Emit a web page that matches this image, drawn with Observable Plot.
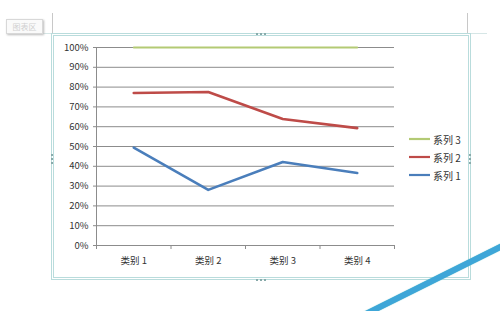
<!DOCTYPE html>
<html>
<head>
<meta charset="utf-8">
<script src="https://cdn.jsdelivr.net/npm/d3@7"></script>
<script src="https://cdn.jsdelivr.net/npm/@observablehq/plot@0.6"></script>
<style>
  html, body { margin: 0; padding: 0; background: #fff; }
  #wrap { position: relative; width: 500px; height: 311px; overflow: hidden; background: #fff;
          font-family: "Noto Sans CJK SC", "Liberation Sans", sans-serif; }
  #chart { position: absolute; left: 0; top: 0; }
  .deco { position: absolute; }
  .legend-item { position: absolute; left: 409px; height: 14px; display: flex; align-items: center;
                 font-size: 10px; color: #333; }
  .legend-item svg { margin-right: 3px; }
</style>
</head>
<body>
<div id="wrap">
  <!-- Excel selection frame decorations -->
  <div class="deco" style="left:52px;top:13px;width:1px;height:21px;background:#c8c8c8"></div>
  <div class="deco" style="left:467px;top:13px;width:1px;height:21px;background:#c8c8c8"></div>
  <div class="deco" style="left:42px;top:33px;width:445px;height:1px;background:#d6e6e6"></div>
  <div class="deco" style="left:6px;top:19px;width:35px;height:13px;border:1px solid #d8d8d8;background:#fafafa;box-shadow:1px 1px 2px #bbb;font-size:8px;color:#d0d0d0;line-height:13px;text-align:center">图表区</div>
  <div class="deco" style="left:51px;top:33px;width:414px;height:241px;border:3px double #b9dcdc"></div>
  <div class="deco" style="left:256px;top:33px;width:10px;height:2px;border-top:2px dotted #8aa"></div>
  <div class="deco" style="left:256px;top:279px;width:10px;height:2px;border-top:2px dotted #8aa"></div>
  <div class="deco" style="left:51px;top:154px;width:2px;height:10px;border-left:2px dotted #8aa"></div>
  <div class="deco" style="left:469px;top:154px;width:2px;height:10px;border-left:2px dotted #8aa"></div>
  <div id="chart"></div>
  <div id="legend"></div>
  <div class="deco" style="left:356px;top:276px;width:160px;height:6px;background:#3ea6d8;transform:rotate(-26.5deg);transform-origin:center;box-shadow:0 0 1px #7cc"></div>
</div>
<script>
const categories = ["类别 1", "类别 2", "类别 3", "类别 4"];
const seriesNames = ["系列 1", "系列 2", "系列 3"];
// shares (percent of category total)
const series1 = [49.4, 28.1, 42.2, 36.6];
const series2 = [27.6, 49.4, 21.7, 22.7];
const series3 = [23.0, 22.5, 36.1, 40.7];
const yTicks = [0, 0.1, 0.2, 0.3, 0.4, 0.5, 0.6, 0.7, 0.8, 0.9, 1];
const seriesColors = ["#4a7ebb", "#be4b48", "#b3ca74"];
const seriesWidths = [2.6, 2.6, 1.8];

const seriesValues = [series1, series2, series3];
const rows = [];
categories.forEach((c, i) => {
  seriesNames.forEach((s, j) => {
    rows.push({pos: i + 1, category: c, series: s, value: seriesValues[j][i]});
  });
});

const chart = Plot.plot({
  width: 500,
  height: 311,
  marginLeft: 96,
  marginRight: 106,
  marginTop: 47,
  marginBottom: 66,
  style: {background: "transparent", fontSize: "9.5px", color: "#333", fontFamily: "'Noto Sans CJK SC', 'Liberation Sans', sans-serif"},
  x: {type: "linear", domain: [0.5, categories.length + 0.5]},
  y: {domain: [0, 1]},
  color: {domain: seriesNames, range: seriesColors},
  marks: [
    Plot.gridY(yTicks, {stroke: "#8c8c8c", strokeOpacity: 1}),
    Plot.axisY(yTicks, {tickFormat: d3.format(".0%"), tickSize: 3, tickPadding: 5, stroke: "#8c8c8c", label: null, fill: "#333"}),
    Plot.axisX(d3.range(0.5, categories.length + 1, 1), {tickSize: 4, tickFormat: () => "", stroke: "#8c8c8c", label: null}),
    Plot.axisX(categories.map((c, i) => i + 1), {tickSize: 0, tickPadding: 12, tickFormat: d => categories[d - 1], label: null, fill: "#333"}),
    Plot.ruleX([0.5], {stroke: "#8c8c8c"}),
    Plot.ruleY([0], {stroke: "#8c8c8c"}),
    Plot.lineY(rows, Plot.stackY2({x: "pos", y: "value", z: "series", stroke: "series", offset: "normalize", strokeWidth: 2.6, strokeLinejoin: "round", strokeLinecap: "round"}))
  ]
});
document.getElementById("chart").appendChild(chart);
// thinner, paler top series line (系列 3) as in the reference
d3.select(chart).selectAll("path").filter(function() { return this.getAttribute("stroke") === seriesColors[2]; })
  .attr("stroke-width", seriesWidths[2]);

// legend (top to bottom: 系列 3, 系列 2, 系列 1)
const legend = document.getElementById("legend");
const legendTops = [168, 150, 132];
seriesNames.forEach((s, j) => {
  const item = document.createElement("div");
  item.className = "legend-item";
  item.style.top = legendTops[j] + "px";
  item.innerHTML = `<svg width="21" height="4"><line x1="0" x2="21" y1="2" y2="2" stroke="${seriesColors[j]}" stroke-width="2.2"/></svg><span>${s}</span>`;
  legend.appendChild(item);
});
</script>
</body>
</html>
